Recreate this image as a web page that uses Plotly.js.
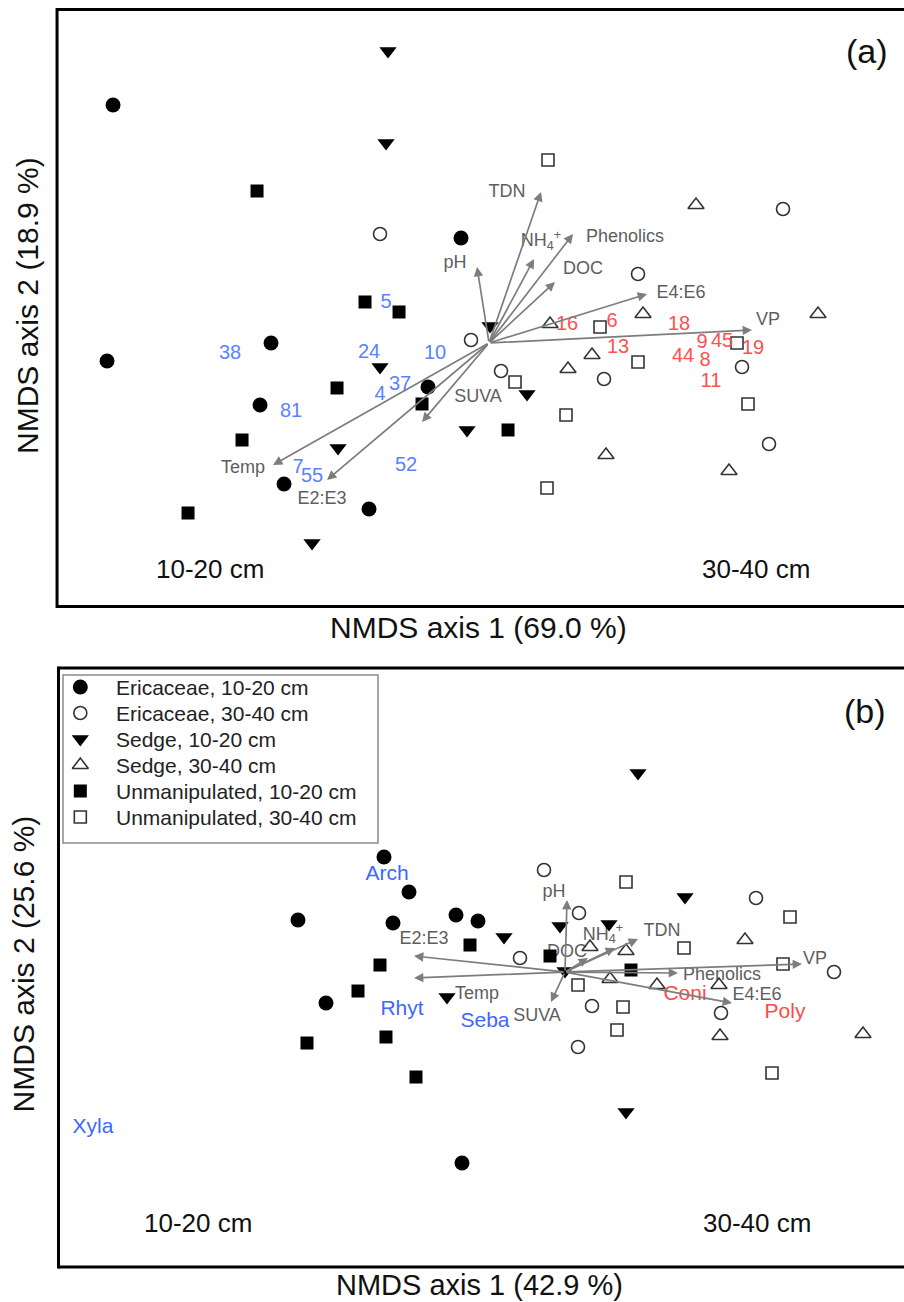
<!DOCTYPE html>
<html>
<head>
<meta charset="utf-8">
<script src="https://cdn.plot.ly/plotly-3.0.1.min.js"></script>
<style>html,body{margin:0;padding:0;background:#fff;}#chart{width:904px;height:1302px;}</style>
</head>
<body>
<div id="chart"></div>
<script>
// ---------- group names (legend) ----------
const groupNames = ['Ericaceae, 10-20 cm','Ericaceae, 30-40 cm','Sedge, 10-20 cm','Sedge, 30-40 cm','Unmanipulated, 10-20 cm','Unmanipulated, 30-40 cm'];

// ---------- panel (a) sample scores ----------
const aEric10X = [-1.88,-1.91,-1.09,-1.145,-1.025,-0.60,-0.14,-0.305];
const aEric10Y = [1.19,-0.09,0.0,-0.31,-0.705,-0.83,0.525,-0.22];
const aEric30X = [-0.545,1.47,0.745,-0.09,0.06,0.575,1.265,1.40];
const aEric30Y = [0.545,0.67,0.345,0.015,-0.14,-0.18,-0.12,-0.505];
const aSedge10X = [-0.505,-0.515,-0.545,-0.755,-0.885,0.005,0.19,-0.11];
const aSedge10Y = [1.46,1.0,-0.12,-0.525,-1.0,0.085,-0.255,-0.435];
const aSedge30X = [1.035,1.645,0.77,0.305,0.515,0.395,0.585,1.20];
const aSedge30Y = [0.69,0.145,0.145,0.095,-0.06,-0.13,-0.56,-0.64];
const aUnman10X = [-1.16,-0.62,-0.45,-0.76,-1.235,-1.505,-0.335,0.095];
const aUnman10Y = [0.76,0.205,0.155,-0.225,-0.485,-0.85,-0.305,-0.435];
const aUnman30X = [0.295,0.555,0.745,1.24,0.13,0.385,1.295,0.29];
const aUnman30Y = [0.915,0.08,-0.095,0.0,-0.195,-0.36,-0.305,-0.725];

// ---------- panel (a) environmental vectors ----------
const aVarNames = ['pH','TDN','NH<sub>4</sub><sup>+</sup>','Phenolics','DOC','E4:E6','VP','Temp','E2:E3','SUVA'];
const aVarX = [-0.06,0.26,0.225,0.42,0.33,0.79,1.315,-1.08,-0.81,-0.335];
const aVarY = [0.38,0.755,0.42,0.545,0.305,0.245,0.065,-0.61,-0.685,-0.395];
const aVarLabX = [-0.17,0.09,0.26,0.68,0.47,0.96,1.395,-1.23,-0.835,-0.055];
const aVarLabY = [0.395,0.75,0.505,0.525,0.365,0.245,0.11,-0.63,-0.785,-0.275];

// ---------- panel (a) OTU labels ----------
const aBlueLabels = ['5','38','24','10','37','4','81','7','55','52'];
const aBlueX = [-0.515,-1.295,-0.60,-0.27,-0.445,-0.545,-0.99,-0.955,-0.885,-0.415];
const aBlueY = [0.20,-0.055,-0.05,-0.055,-0.21,-0.26,-0.345,-0.625,-0.67,-0.615];
const aRedLabels = ['16','6','18','13','9','45','19','44','8','11'];
const aRedX = [0.39,0.615,0.95,0.645,1.065,1.165,1.32,0.97,1.08,1.11];
const aRedY = [0.09,0.105,0.09,-0.025,0.0,0.005,-0.03,-0.07,-0.09,-0.195];

// ---------- panel (b) sample scores ----------
const bEric10X = [-0.905,-0.78,-1.335,-0.86,-0.545,-0.435,-1.195,-0.515];
const bEric10Y = [0.575,0.40,0.26,0.245,0.285,0.255,-0.155,-0.955];
const bEric30X = [-0.105,0.07,0.955,-0.225,1.345,0.135,0.78,0.065];
const bEric30Y = [0.51,0.295,0.37,0.07,0.0,-0.17,-0.205,-0.375];
const bSedge10X = [0.365,0.60,-0.025,0.22,-0.305,-0.59,0.305,0.0];
const bSedge10Y = [0.995,0.375,0.23,0.24,0.175,-0.125,-0.70,0.005];
const bSedge30X = [0.125,0.305,0.225,0.46,0.77,0.90,0.775,1.49];
const bSedge30Y = [0.125,0.105,-0.035,-0.065,-0.065,0.16,-0.32,-0.31];
const bUnman10X = [-0.475,-0.925,-1.035,-0.075,-1.29,-0.895,-0.745,0.33];
const bUnman10Y = [0.135,0.035,-0.095,0.08,-0.355,-0.325,-0.525,0.01];
const bUnman30X = [0.305,1.125,0.595,1.09,0.065,0.29,0.26,1.035];
const bUnman30Y = [0.45,0.275,0.12,0.04,-0.065,-0.175,-0.29,-0.505];

// ---------- panel (b) environmental vectors ----------
const bVarNames = ['pH','DOC','NH<sub>4</sub><sup>+</sup>','TDN','VP','Phenolics','E4:E6','E2:E3','Temp','SUVA'];
const bVarX = [0.01,0.115,0.25,0.365,1.185,0.565,0.835,-0.755,-0.755,-0.07];
const bVarY = [0.36,0.07,0.12,0.165,0.04,-0.005,-0.155,0.08,-0.03,-0.15];
const bVarLabX = [-0.055,0.01,0.19,0.485,1.25,0.785,0.96,-0.705,-0.44,-0.14];
const bVarLabY = [0.40,0.10,0.185,0.205,0.065,-0.015,-0.115,0.165,-0.11,-0.225];

// ---------- panel (b) taxon labels ----------
const bBlueLabels = ['Arch','Rhyt','Seba','Xyla'];
const bBlueX = [-0.89,-0.815,-0.40,-2.36];
const bBlueY = [0.485,-0.19,-0.25,-0.78];
const bRedLabels = ['Coni','Poly'];
const bRedX = [0.60,1.10];
const bRedY = [-0.115,-0.205];

// ---------- styling ----------
const FONT = 'Liberation Sans, Arial, Helvetica, sans-serif';
const markerStyles = [
  {symbol:'circle', color:'#000', size:15, line:{width:0}},
  {symbol:'circle-open', color:'#333', size:13, line:{width:1.6, color:'#333'}},
  {symbol:'triangle-down', color:'#000', size:15, line:{width:0}},
  {symbol:'triangle-up-open', color:'#333', size:14, line:{width:1.6, color:'#333'}},
  {symbol:'square', color:'#000', size:13, line:{width:0}},
  {symbol:'square-open', color:'#333', size:12, line:{width:1.6, color:'#333'}}
];
const ARROW_COL = '#7d7d7d';
const VARLAB_COL = '#5e5e5e';

const aGroups = [[aEric10X,aEric10Y],[aEric30X,aEric30Y],[aSedge10X,aSedge10Y],[aSedge30X,aSedge30Y],[aUnman10X,aUnman10Y],[aUnman30X,aUnman30Y]];
const bGroups = [[bEric10X,bEric10Y],[bEric30X,bEric30Y],[bSedge10X,bSedge10Y],[bSedge30X,bSedge30Y],[bUnman10X,bUnman10Y],[bUnman30X,bUnman30Y]];

const traces = [];
function textTrace(x, y, txt, size, color, xa, ya){
  return {x:x, y:y, text:txt, mode:'text', type:'scatter', xaxis:xa, yaxis:ya,
    textposition:'middle center', textfont:{family:FONT, size:size, color:color},
    hoverinfo:'skip', showlegend:false, cliponaxis:false};
}
traces.push(textTrace(aVarLabX, aVarLabY, aVarNames, 18, VARLAB_COL, 'x', 'y'));
traces.push(textTrace(bVarLabX, bVarLabY, bVarNames, 18, VARLAB_COL, 'x2', 'y2'));

aGroups.forEach((g,i)=>{
  traces.push({x:g[0], y:g[1], type:'scatter', mode:'markers', name:groupNames[i],
    xaxis:'x', yaxis:'y', marker:markerStyles[i], showlegend:false});
});
bGroups.forEach((g,i)=>{
  traces.push({x:g[0], y:g[1], type:'scatter', mode:'markers', name:groupNames[i],
    xaxis:'x2', yaxis:'y2', marker:markerStyles[i], showlegend:false});
});

traces.push(textTrace(aBlueX, aBlueY, aBlueLabels, 20, '#5a82ff', 'x', 'y'));
traces.push(textTrace(aRedX, aRedY, aRedLabels, 20, '#ff5050', 'x', 'y'));
traces.push(textTrace(bBlueX, bBlueY, bBlueLabels, 21, '#3d68ff', 'x2', 'y2'));
traces.push(textTrace(bRedX, bRedY, bRedLabels, 21, '#ff4a4a', 'x2', 'y2'));

// ---------- legend of panel (b): its own small axis, one row per group ----------
groupNames.forEach((name,i)=>{
  traces.push({x:[0.055], y:[i], type:'scatter', mode:'markers', name:name,
    xaxis:'x3', yaxis:'y3', marker:markerStyles[i], showlegend:false, cliponaxis:false});
});

// ---------- arrows (from origin) ----------
const annotations = [];
function addArrows(xs, ys, xr, yr){
  xs.forEach((x,i)=>{
    annotations.push({x:x, y:ys[i], ax:0, ay:0, xref:xr, yref:yr, axref:xr, ayref:yr,
      text:'', showarrow:true, arrowhead:2, arrowsize:1.1, arrowwidth:1.7,
      arrowcolor:ARROW_COL, standoff:0, startstandoff:0});
  });
}
addArrows(aVarX, aVarY, 'x', 'y');
addArrows(bVarX, bVarY, 'x2', 'y2');

groupNames.forEach((name,i)=>{
  annotations.push({text:name, x:0.165, y:i, xref:'x3', yref:'y3', showarrow:false,
    xanchor:'left', yanchor:'middle', borderpad:0, font:{family:FONT, size:21, color:'#222'}});
});

function paperText(txt, x, y, size, extra){
  return Object.assign({text:txt, x:x, y:y, xref:'paper', yref:'paper', showarrow:false,
    xanchor:'center', yanchor:'middle', font:{family:FONT, size:size, color:'#111'}}, extra||{});
}
annotations.push(paperText('NMDS axis 1 (69.0 %)', 0.5288, 0.5184, 30));
annotations.push(paperText('NMDS axis 2 (18.9 %)', 0.031, 0.765, 30, {textangle:-90}));
annotations.push(paperText('NMDS axis 1 (42.9 %)', 0.5299, 0.0127, 29));
annotations.push(paperText('NMDS axis 2 (25.6 %)', 0.0265, 0.26, 30, {textangle:-90}));
annotations.push(paperText('10-20 cm', 0.2323, 0.563, 26));
annotations.push(paperText('30-40 cm', 0.8363, 0.563, 26));
annotations.push(paperText('(a)', 0.959, 0.9608, 34));
annotations.push(paperText('10-20 cm', 0.219, 0.0607, 26));
annotations.push(paperText('30-40 cm', 0.8374, 0.0607, 26));
annotations.push(paperText('(b)', 0.9569, 0.4539, 34));

// ---------- frames (left, top, bottom; right edge lies outside the picture) ----------
const aL = 0.0631, aB = 0.5342, aT = 0.9927;
const bL = 0.0647, bB = 0.0269, bT = 0.4869;
const fr = {color:'#000', width:3};
const shapes = [
  {type:'line', xref:'paper', yref:'paper', x0:aL, x1:aL, y0:aB-0.0012, y1:aT+0.0012, line:fr},
  {type:'line', xref:'paper', yref:'paper', x0:aL, x1:1.02, y0:aT, y1:aT, line:fr},
  {type:'line', xref:'paper', yref:'paper', x0:aL, x1:1.02, y0:aB, y1:aB, line:fr},
  {type:'line', xref:'paper', yref:'paper', x0:bL, x1:bL, y0:bB-0.0012, y1:bT+0.0012, line:fr},
  {type:'line', xref:'paper', yref:'paper', x0:bL, x1:1.02, y0:bT, y1:bT, line:fr},
  {type:'line', xref:'paper', yref:'paper', x0:bL, x1:1.02, y0:bB, y1:bB, line:fr},
  // legend box
  {type:'rect', xref:'x3 domain', yref:'y3 domain', x0:0, x1:1, y0:0, y1:1,
   line:{color:'#8a8a8a', width:1.5}, fillcolor:'rgba(255,255,255,0)'}
];

const ax = {showgrid:false, zeroline:false, showticklabels:false, ticks:'', showline:false, fixedrange:true};
const layout = {
  width:904, height:1302, margin:{l:0,r:0,t:0,b:0},
  paper_bgcolor:'#fff', plot_bgcolor:'rgba(0,0,0,0)',
  font:{family:FONT, color:'#111'},
  showlegend:false,
  xaxis:Object.assign({domain:[aL,1], range:[-2.16,2.075], anchor:'y'}, ax),
  yaxis:Object.assign({domain:[aB,aT], range:[-1.3175,1.6675], anchor:'x'}, ax),
  xaxis2:Object.assign({domain:[bL,1], range:[-2.5325,1.695], anchor:'y2'}, ax),
  yaxis2:Object.assign({domain:[bB,bT], range:[-1.475,1.52], anchor:'x2'}, ax),
  xaxis3:Object.assign({domain:[63/904,378/904], range:[0,1], anchor:'y3'}, ax),
  yaxis3:Object.assign({domain:[1-843/1302,1-675/1302], range:[6.0,-0.4615], anchor:'x3'}, ax),
  annotations:annotations,
  shapes:shapes
};
Plotly.newPlot('chart', traces, layout, {displayModeBar:false, staticPlot:true});
</script>
</body>
</html>
